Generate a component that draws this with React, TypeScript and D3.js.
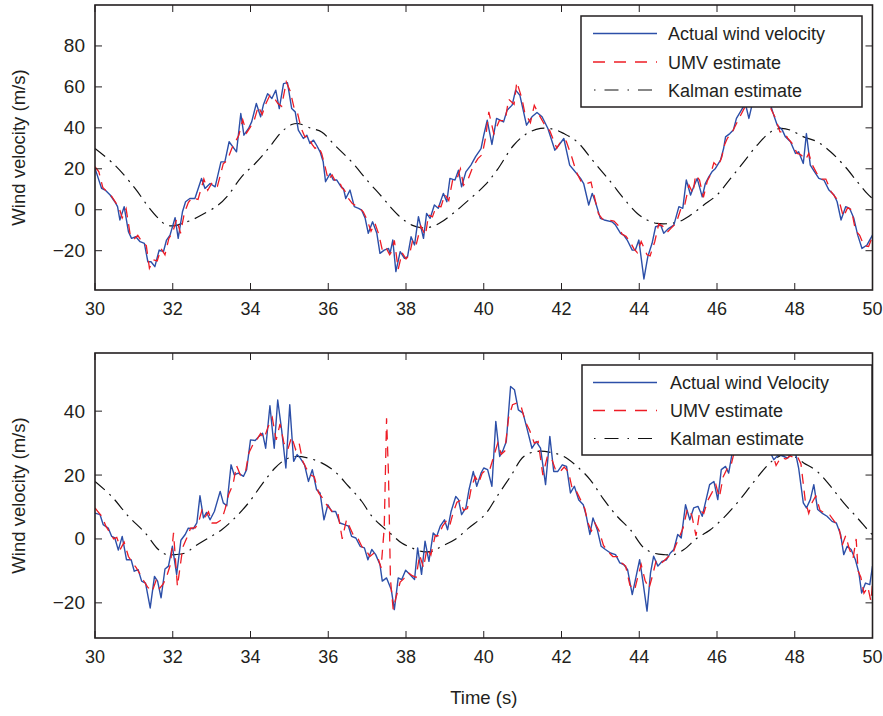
import React from "react";
import * as d3 from "d3";

// ---------- data ----------
const xTicks = [30, 32, 34, 36, 38, 40, 42, 44, 46, 48, 50];
const yTicksTop = [-20, 0, 20, 40, 60, 80];
const yTicksBottom = [-20, 0, 20, 40];
const legendTop = ["Actual wind velocity", "UMV estimate", "Kalman estimate"];
const legendBottom = ["Actual wind Velocity", "UMV estimate", "Kalman estimate"];
const yLabel = "Wind velocity (m/s)";
const xLabel = "Time (s)";

const actualTop: [number, number][] = [
  [30.00,20.2],[30.17,10.4],[30.26,9.6],[30.39,7.2],[30.51,3.9],[30.58,1.5],[30.64,-5.0],[30.75,1.5],[30.86,-10.7],[30.94,-14.0],
  [31.05,-13.2],[31.16,-15.6],[31.27,-16.4],[31.36,-25.4],[31.44,-25.4],[31.54,-27.8],[31.65,-19.7],[31.76,-20.5],[31.84,-14.8],[31.93,-12.4],
  [32.06,-3.9],[32.14,-14.0],[32.25,-1.0],[32.33,3.9],[32.44,5.5],[32.57,5.5],[32.74,15.3],[32.83,10.4],[32.96,12.8],[33.09,11.2],
  [33.24,23.4],[33.34,23.4],[33.45,33.2],[33.64,28.3],[33.75,47.0],[33.83,36.4],[33.95,39.7],[34.03,42.9],[34.15,51.9],[34.26,45.4],
  [34.33,51.1],[34.44,56.7],[34.55,54.3],[34.65,58.4],[34.74,49.4],[34.85,61.6],[34.95,62.1],[35.06,49.4],[35.15,47.8],[35.23,38.9],
  [35.36,34.8],[35.45,36.4],[35.53,32.4],[35.62,34.0],[35.70,31.5],[35.79,28.3],[35.87,23.4],[35.93,13.7],[36.05,17.7],[36.13,14.5],
  [36.22,14.5],[36.33,11.2],[36.39,10.4],[36.45,5.5],[36.56,9.6],[36.67,1.5],[36.78,0.7],[36.86,-0.2],[36.95,-4.2],[37.03,-11.5],
  [37.14,-5.9],[37.25,-11.5],[37.33,-21.3],[37.44,-19.7],[37.55,-18.9],[37.59,-21.3],[37.66,-14.8],[37.74,-30.2],[37.85,-20.5],[37.96,-23.7],
  [38.04,-22.9],[38.13,-13.2],[38.22,-17.2],[38.32,-3.4],[38.45,-14.0],[38.53,-1.8],[38.62,-4.2],[38.73,2.3],[38.83,0.7],[38.96,8.0],
  [39.05,3.9],[39.13,15.3],[39.26,14.5],[39.35,19.3],[39.43,11.2],[39.54,18.5],[39.67,21.8],[39.79,25.9],[39.93,29.9],[40.00,36.4],
  [40.09,43.7],[40.21,31.9],[40.33,44.6],[40.51,42.9],[40.60,48.6],[40.73,51.1],[40.82,58.4],[40.93,55.9],[41.10,41.3],[41.24,45.4],
  [41.37,47.5],[41.50,45.4],[41.65,39.7],[41.83,29.1],[41.93,31.5],[42.06,34.8],[42.21,21.8],[42.32,19.3],[42.49,15.3],[42.57,12.8],
  [42.70,2.3],[42.79,8.0],[42.87,3.9],[43.00,-4.2],[43.10,-5.0],[43.30,-5.9],[43.39,-7.5],[43.52,-11.5],[43.60,-12.4],[43.69,-14.8],
  [43.82,-19.7],[43.90,-19.7],[43.99,-14.8],[44.12,-33.8],[44.22,-22.9],[44.33,-16.4],[44.42,-8.3],[44.55,-7.5],[44.63,-11.5],[44.76,-9.1],
  [44.89,-7.5],[45.02,1.5],[45.12,0.7],[45.21,14.5],[45.32,7.2],[45.40,11.2],[45.49,15.3],[45.62,6.3],[45.70,12.8],[45.79,16.1],
  [45.87,18.5],[45.96,20.2],[46.09,24.2],[46.17,29.9],[46.22,35.6],[46.33,37.2],[46.42,38.9],[46.50,44.6],[46.65,49.4],[46.73,51.9],
  [46.82,44.6],[46.90,51.1],[47.03,55.0],[47.16,58.0],[47.27,53.0],[47.38,51.1],[47.46,46.2],[47.55,41.3],[47.68,38.9],[47.76,35.6],
  [47.89,33.2],[48.02,27.5],[48.10,28.3],[48.22,22.6],[48.30,37.2],[48.40,21.8],[48.51,18.5],[48.62,15.3],[48.75,14.5],[48.88,9.6],
  [49.01,7.2],[49.09,3.9],[49.19,-5.0],[49.31,1.5],[49.41,0.7],[49.52,-4.2],[49.62,-12.4],[49.73,-18.9],[49.86,-17.2],[50.00,-12.4]
];

const umvTop: [number, number][] = [
  [30.00,21.0],[30.10,18.5],[30.20,10.9],[30.30,9.0],[30.43,6.5],[30.55,3.0],[30.62,1.0],[30.70,-4.0],[30.80,0.5],[30.90,-11.5],
  [31.00,-14.5],[31.10,-12.5],[31.22,-16.0],[31.32,-17.5],[31.40,-28.6],[31.50,-24.5],[31.60,-25.0],[31.70,-19.0],[31.80,-22.0],[31.90,-14.0],
  [32.00,-11.0],[32.10,-4.5],[32.20,-11.5],[32.30,-1.5],[32.40,3.5],[32.50,6.0],[32.65,5.0],[32.80,15.0],[32.90,9.5],[33.02,13.5],
  [33.15,11.5],[33.30,22.5],[33.40,24.0],[33.52,30.0],[33.70,36.4],[33.80,44.0],[33.90,37.5],[34.00,40.5],[34.10,44.0],[34.20,50.5],
  [34.30,46.5],[34.40,52.0],[34.50,56.0],[34.60,54.8],[34.70,52.0],[34.80,50.5],[34.92,62.4],[35.02,58.0],[35.12,49.8],[35.20,48.0],
  [35.30,40.0],[35.40,35.5],[35.50,36.0],[35.58,32.0],[35.66,30.0],[35.75,31.0],[35.83,27.5],[35.90,22.5],[36.00,14.5],[36.10,17.0],
  [36.18,14.0],[36.28,14.0],[36.36,10.5],[36.42,9.5],[36.50,6.0],[36.62,3.0],[36.72,1.8],[36.82,0.5],[36.90,-1.0],[37.00,-5.0],
  [37.10,-10.5],[37.20,-6.5],[37.30,-12.0],[37.40,-20.5],[37.50,-19.0],[37.58,-22.0],[37.63,-20.5],[37.70,-15.0],[37.80,-29.0],[37.90,-21.0],
  [38.00,-24.0],[38.09,-22.0],[38.18,-14.0],[38.27,-16.5],[38.38,-8.0],[38.50,-12.5],[38.58,-2.5],[38.68,-3.5],[38.78,1.8],[38.90,1.5],
  [39.00,7.5],[39.10,4.5],[39.20,14.5],[39.30,14.5],[39.40,20.0],[39.48,12.0],[39.60,15.0],[39.72,21.0],[39.85,25.0],[39.96,27.0],
  [40.05,35.5],[40.13,47.8],[40.26,37.0],[40.40,43.5],[40.55,43.5],[40.64,54.0],[40.78,51.5],[40.85,62.4],[40.98,54.5],[41.05,47.8],
  [41.20,42.5],[41.30,51.0],[41.42,46.5],[41.55,42.0],[41.70,38.5],[41.88,30.0],[42.00,34.0],[42.12,33.5],[42.26,26.0],[42.38,18.5],
  [42.50,14.0],[42.62,12.5],[42.76,13.5],[42.82,8.5],[42.95,-2.0],[43.05,-4.5],[43.20,-5.0],[43.35,-5.5],[43.45,-7.5],[43.56,-12.0],
  [43.66,-13.0],[43.76,-15.5],[43.86,-19.0],[43.95,-21.0],[44.05,-15.5],[44.20,-22.0],[44.28,-22.5],[44.40,-15.5],[44.50,-7.0],[44.60,-8.0],
  [44.72,-11.0],[44.82,-9.0],[44.95,-6.5],[45.08,1.0],[45.16,1.5],[45.28,12.0],[45.38,8.0],[45.45,17.0],[45.55,14.5],[45.65,6.0],
  [45.75,14.0],[45.83,17.0],[45.92,23.0],[46.02,21.0],[46.12,25.5],[46.20,32.0],[46.27,35.0],[46.38,37.5],[46.46,40.5],[46.55,44.0],
  [46.70,49.5],[46.78,51.0],[46.86,51.5],[46.95,52.0],[47.08,55.5],[47.20,57.0],[47.32,52.0],[47.42,48.0],[47.50,45.0],[47.62,38.0],
  [47.72,38.0],[47.82,35.0],[47.95,32.0],[48.06,27.5],[48.15,27.0],[48.28,24.5],[48.36,27.5],[48.45,22.0],[48.56,18.0],[48.66,15.0],
  [48.80,15.0],[48.93,9.0],[49.05,6.0],[49.14,4.5],[49.25,-3.5],[49.36,1.0],[49.46,0.0],[49.56,-10.0],[49.67,-12.5],[49.78,-17.5],
  [49.90,-18.0],[50.00,-13.0]
];

const kalmanTop: [number, number][] = [
  [30.00,29.9],[30.51,21.8],[31.03,10.4],[31.37,1.5],[31.63,-4.2],[31.84,-7.5],[32.06,-7.8],[32.23,-6.7],[32.49,-5.0],[32.74,-2.6],
  [33.17,2.3],[33.43,7.2],[33.77,16.1],[34.12,22.6],[34.46,29.9],[34.80,38.0],[35.06,41.6],[35.23,42.1],[35.57,39.7],[35.83,38.0],
  [36.17,31.5],[36.60,23.4],[37.03,13.7],[37.38,6.3],[37.63,0.7],[37.89,-4.2],[38.15,-7.5],[38.40,-8.8],[38.66,-8.3],[38.92,-5.9],
  [39.26,-1.0],[39.61,4.7],[40.03,12.0],[40.34,19.3],[40.77,31.5],[41.11,37.2],[41.46,39.7],[41.80,39.3],[42.06,37.2],[42.40,33.2],
  [42.83,23.4],[43.26,13.7],[43.60,5.5],[43.95,-1.8],[44.20,-5.0],[44.46,-6.7],[44.80,-6.7],[45.06,-5.5],[45.32,-2.6],[45.66,2.3],
  [46.00,7.2],[46.35,15.3],[46.69,23.4],[47.03,31.5],[47.38,38.0],[47.63,39.7],[47.89,38.9],[48.23,35.6],[48.58,33.2],[48.92,28.3],
  [49.26,21.8],[49.61,13.7],[49.86,8.0],[50.00,5.5]
];

const actualBottom: [number, number][] = [
  [30.00,8.1],[30.13,7.6],[30.21,4.5],[30.34,3.4],[30.43,0.8],[30.51,0.3],[30.60,-3.5],[30.70,0.8],[30.81,-6.5],[30.93,-6.5],
  [31.01,-10.1],[31.11,-9.6],[31.20,-13.2],[31.30,-13.8],[31.42,-21.6],[31.53,-11.7],[31.61,-13.2],[31.70,-18.4],[31.80,-9.4],[31.89,-8.5],
  [31.99,-2.3],[32.10,-11.1],[32.21,-0.4],[32.32,1.4],[32.40,3.4],[32.53,3.2],[32.62,5.0],[32.70,13.5],[32.79,6.6],[32.87,8.3],
  [32.96,6.0],[33.07,8.6],[33.22,14.9],[33.30,11.3],[33.39,10.4],[33.50,23.2],[33.58,20.1],[33.69,20.6],[33.82,19.6],[33.90,21.7],
  [34.00,31.0],[34.12,30.8],[34.22,32.1],[34.31,33.1],[34.39,28.4],[34.50,41.7],[34.61,28.4],[34.70,43.5],[34.80,34.2],[34.91,22.2],
  [35.01,42.0],[35.11,24.3],[35.20,26.4],[35.28,25.3],[35.39,23.2],[35.49,18.0],[35.59,21.7],[35.70,15.4],[35.79,14.4],[35.89,6.0],
  [35.99,10.7],[36.09,8.6],[36.19,8.6],[36.30,5.0],[36.42,4.5],[36.52,4.0],[36.60,0.8],[36.71,0.3],[36.82,-2.3],[36.93,-2.8],
  [37.02,-6.5],[37.12,-3.3],[37.22,-4.9],[37.33,-8.0],[37.39,-13.2],[37.50,-12.2],[37.62,-15.8],[37.70,-22.1],[37.80,-12.2],[37.89,-12.7],
  [37.99,-9.8],[38.10,-11.1],[38.22,-12.7],[38.30,-2.8],[38.40,-11.1],[38.49,-0.7],[38.59,-7.0],[38.70,1.9],[38.79,0.8],[38.88,4.0],
  [38.99,6.0],[39.07,2.9],[39.16,8.6],[39.28,13.3],[39.35,12.3],[39.43,7.6],[39.54,9.7],[39.62,15.4],[39.73,21.1],[39.82,16.5],
  [39.93,20.6],[40.00,22.2],[40.10,21.7],[40.21,16.5],[40.31,36.8],[40.41,25.8],[40.50,27.9],[40.58,30.5],[40.69,47.7],[40.79,46.7],
  [40.89,40.4],[41.01,39.4],[41.11,34.7],[41.24,28.4],[41.35,30.5],[41.46,28.4],[41.59,17.0],[41.70,32.1],[41.80,21.1],[41.90,21.1],
  [42.02,23.2],[42.13,22.7],[42.23,14.4],[42.33,16.5],[42.44,12.3],[42.56,10.7],[42.64,7.1],[42.73,1.4],[42.81,6.6],[42.92,2.9],
  [43.02,-2.3],[43.13,-3.3],[43.26,-4.4],[43.39,-4.9],[43.50,-7.5],[43.60,-8.0],[43.70,-9.6],[43.82,-17.4],[43.93,-11.1],[44.01,-6.5],
  [44.10,-13.8],[44.20,-22.6],[44.29,-10.6],[44.37,-5.4],[44.48,-8.5],[44.59,-7.0],[44.70,-6.5],[44.80,-4.4],[44.89,-3.3],[44.99,1.4],
  [45.08,0.3],[45.19,10.7],[45.30,6.0],[45.40,9.7],[45.51,10.2],[45.62,7.1],[45.70,11.3],[45.81,17.0],[45.92,18.0],[46.02,12.3],
  [46.11,21.7],[46.22,22.7],[46.30,20.6],[46.39,26.9],[46.50,32.0],[46.62,38.0],[46.72,33.0],[46.85,40.0],[46.97,36.0],[47.10,30.0],
  [47.20,35.0],[47.38,26.9],[47.46,24.8],[47.59,26.4],[47.72,25.8],[47.82,25.3],[47.93,26.9],[48.02,26.9],[48.10,22.2],[48.22,11.3],
  [48.30,9.7],[48.40,12.3],[48.49,17.0],[48.59,9.2],[48.70,8.1],[48.83,7.1],[48.96,5.5],[49.07,5.0],[49.18,1.4],[49.26,-4.9],
  [49.35,-2.3],[49.45,-3.3],[49.56,-6.5],[49.65,-10.6],[49.72,-16.9],[49.82,-13.8],[49.93,-14.3],[50.00,-8.5]
];

const umvBottom: [number, number][] = [
  [30.00,9.7],[30.08,8.5],[30.18,7.0],[30.28,4.0],[30.38,2.0],[30.48,0.0],[30.56,0.5],[30.66,-3.0],[30.75,-1.0],[30.86,-5.5],
  [30.97,-7.5],[31.06,-9.0],[31.16,-11.0],[31.25,-13.0],[31.35,-15.0],[31.47,-16.5],[31.57,-13.0],[31.66,-15.5],[31.76,-14.0],[31.85,-11.5],
  [31.94,-8.0],[32.02,1.9],[32.12,-14.8],[32.26,-2.5],[32.36,0.3],[32.46,3.4],[32.58,3.5],[32.66,5.0],[32.75,9.0],[32.84,7.0],
  [32.92,8.5],[33.01,5.0],[33.12,5.0],[33.26,6.0],[33.35,9.5],[33.44,14.0],[33.55,17.0],[33.64,23.0],[33.74,20.0],[33.87,21.0],
  [33.96,27.0],[34.06,29.5],[34.16,31.0],[34.26,33.0],[34.35,31.5],[34.45,35.0],[34.56,38.0],[34.66,31.0],[34.76,36.0],[34.86,30.0],
  [34.96,28.0],[35.06,32.0],[35.16,28.0],[35.25,30.0],[35.34,24.5],[35.44,22.0],[35.54,20.0],[35.64,19.5],[35.75,14.5],[35.84,13.0],
  [35.94,11.0],[36.04,9.5],[36.14,8.0],[36.25,8.0],[36.36,0.0],[36.47,6.0],[36.56,3.5],[36.66,0.8],[36.77,0.0],[36.87,-2.5],
  [36.97,-3.5],[37.07,-5.5],[37.17,-4.5],[37.28,-6.0],[37.36,-9.0],[37.44,3.5],[37.50,37.8],[37.55,20.0],[37.60,-12.7],[37.67,-22.0],
  [37.75,-18.0],[37.85,-13.5],[37.94,-12.5],[38.05,-10.5],[38.16,-11.5],[38.26,-12.0],[38.35,-5.0],[38.45,-9.0],[38.54,-3.0],[38.64,-5.0],
  [38.75,1.0],[38.84,1.0],[38.94,4.0],[39.03,5.5],[39.12,4.0],[39.22,8.5],[39.31,11.5],[39.39,12.0],[39.48,9.0],[39.58,9.5],
  [39.68,16.0],[39.78,19.5],[39.87,17.5],[39.96,20.6],[40.05,21.5],[40.15,21.5],[40.26,26.0],[40.36,30.0],[40.45,26.5],[40.54,27.5],
  [40.64,38.0],[40.74,42.0],[40.84,42.5],[40.95,42.0],[41.06,37.0],[41.18,34.0],[41.30,30.0],[41.40,30.5],[41.52,20.0],[41.64,26.0],
  [41.75,25.0],[41.85,21.5],[41.96,21.0],[42.07,22.5],[42.18,21.0],[42.28,15.5],[42.38,15.0],[42.50,12.0],[42.60,9.5],[42.68,5.0],
  [42.77,2.5],[42.86,5.0],[42.97,2.5],[43.08,-2.0],[43.20,-4.0],[43.32,-5.5],[43.44,-5.5],[43.55,-7.5],[43.65,-8.5],[43.76,-14.5],
  [43.88,-16.0],[43.97,-11.5],[44.05,-8.0],[44.15,-13.0],[44.25,-15.5],[44.33,-12.0],[44.43,-7.0],[44.53,-8.0],[44.64,-6.8],[44.75,-5.5],
  [44.85,-5.0],[44.94,-2.0],[45.03,0.5],[45.13,3.5],[45.24,9.5],[45.35,7.5],[45.46,1.0],[45.56,9.0],[45.66,8.0],[45.76,12.0],
  [45.87,14.5],[45.97,17.0],[46.06,13.0],[46.16,19.5],[46.26,22.0],[46.35,22.5],[46.46,28.0],[46.58,33.0],[46.68,36.0],[46.80,35.0],
  [46.92,38.0],[47.05,33.0],[47.15,31.0],[47.28,33.0],[47.42,27.0],[47.52,23.0],[47.64,25.5],[47.77,25.0],[47.88,26.0],[47.98,25.5],
  [48.06,26.0],[48.16,23.5],[48.27,12.0],[48.36,8.0],[48.45,11.5],[48.54,13.5],[48.65,9.0],[48.77,8.0],[48.90,7.5],[49.02,5.5],
  [49.14,3.5],[49.22,-2.0],[49.31,1.0],[49.40,-3.0],[49.50,-6.0],[49.58,0.0],[49.63,-10.0],[49.70,-12.0],[49.78,-17.0],[49.88,-15.0],
  [49.96,-19.5],[50.00,-14.0]
];

const kalmanBottom: [number, number][] = [
  [30.00,18.0],[30.43,13.3],[30.86,7.1],[31.29,1.9],[31.63,-3.3],[31.84,-4.9],[32.06,-4.9],[32.32,-4.4],[32.57,-2.3],[32.92,0.3],
  [33.26,2.9],[33.60,6.6],[33.95,11.3],[34.29,17.0],[34.63,22.2],[34.89,24.8],[35.15,25.8],[35.49,25.3],[35.83,23.8],[36.17,21.1],
  [36.52,16.5],[36.86,11.8],[37.12,7.1],[37.38,4.0],[37.63,1.4],[37.89,-1.3],[38.15,-2.8],[38.40,-3.9],[38.66,-3.9],[38.92,-2.3],
  [39.26,-0.2],[39.61,3.4],[40.03,7.6],[40.34,13.3],[40.69,19.6],[41.03,25.8],[41.37,27.4],[41.72,27.1],[42.06,25.8],[42.40,22.7],
  [42.74,18.5],[43.09,12.3],[43.43,7.1],[43.77,2.9],[44.12,-2.8],[44.37,-4.4],[44.63,-4.9],[44.89,-4.9],[45.15,-3.3],[45.49,0.3],
  [45.83,2.9],[46.17,6.6],[46.52,11.3],[46.86,16.5],[47.20,21.7],[47.46,24.8],[47.72,26.4],[47.98,25.8],[48.23,23.8],[48.58,21.1],
  [48.92,16.5],[49.26,11.3],[49.61,6.6],[49.95,1.9],[50.00,1.4]
];

// ---------- layout ----------
const W = 883;
const H = 716;
const X0 = 95;
const X1 = 872.5;
const FONT = "'Liberation Sans', Arial, Helvetica, sans-serif";
const INK = "#231f20";
const BLUE = "#2c4fa8";
const RED = "#ee1c25";

type PanelProps = {
  id: string;
  top: number;
  bottom: number;
  yDomain: [number, number];
  yTicks: number[];
  actual: [number, number][];
  umv: [number, number][];
  kalman: [number, number][];
  legend: string[];
  legendBox: { x0: number; x1: number; y0: number; y1: number; rows: number[]; tx: number };
};

const fmt = (d: number) => (d < 0 ? `\u2212${-d}` : `${d}`);

function Panel(p: PanelProps) {
  const x = d3.scaleLinear().domain([30, 50]).range([X0, X1]);
  const y = d3.scaleLinear().domain(p.yDomain).range([p.bottom, p.top]);
  const line = d3
    .line<[number, number]>()
    .x((d) => x(d[0]))
    .y((d) => y(d[1]));
  const smooth = d3
    .line<[number, number]>()
    .x((d) => x(d[0]))
    .y((d) => y(d[1]))
    .curve(d3.curveCatmullRom.alpha(0.5));
  const tickLen = 7;
  const lb = p.legendBox;
  const lx0 = 593;
  const lx1 = 657;
  return (
    <g>
      <defs>
        <clipPath id={`clip-${p.id}`}>
          <rect x={X0} y={p.top} width={X1 - X0} height={p.bottom - p.top} />
        </clipPath>
      </defs>
      <g clipPath={`url(#clip-${p.id})`}>
        <path d={smooth(p.kalman) || ""} fill="none" stroke="#111" strokeWidth={1.2} strokeDasharray="13,6,2,6" />
        <path d={line(p.actual) || ""} fill="none" stroke={BLUE} strokeWidth={1.4} strokeLinejoin="round" />
        <path d={line(p.umv) || ""} fill="none" stroke={RED} strokeWidth={1.3} strokeDasharray="10,7" />
      </g>
      {/* ticks */}
      {xTicks.map((t) => (
        <g key={`xt${t}`}>
          <line x1={x(t)} x2={x(t)} y1={p.bottom} y2={p.bottom - tickLen} stroke={INK} strokeWidth={1} />
          <line x1={x(t)} x2={x(t)} y1={p.top} y2={p.top + tickLen} stroke={INK} strokeWidth={1} />
          <text x={x(t)} y={p.bottom + 25} textAnchor="middle" fontSize={18} fontFamily={FONT} fill={INK}>
            {fmt(t)}
          </text>
        </g>
      ))}
      {p.yTicks.map((t) => (
        <g key={`yt${t}`}>
          <line x1={X0} x2={X0 + tickLen} y1={y(t)} y2={y(t)} stroke={INK} strokeWidth={1} />
          <line x1={X1} x2={X1 - tickLen} y1={y(t)} y2={y(t)} stroke={INK} strokeWidth={1} />
          <text x={85} y={y(t) + 6.5} textAnchor="end" fontSize={19} fontFamily={FONT} fill={INK}>
            {fmt(t)}
          </text>
        </g>
      ))}
      <rect x={X0} y={p.top} width={X1 - X0} height={p.bottom - p.top} fill="none" stroke={INK} strokeWidth={1.6} />
      <text
        transform={`translate(25,${(p.top + p.bottom) / 2}) rotate(-90)`}
        textAnchor="middle"
        fontSize={18.5}
        fontFamily={FONT}
        fill={INK}
      >
        {yLabel}
      </text>
      {/* legend */}
      <rect x={lb.x0} y={lb.y0} width={lb.x1 - lb.x0} height={lb.y1 - lb.y0} fill="#fff" stroke={INK} strokeWidth={1.5} />
      <line x1={lx0} x2={lx1} y1={lb.rows[0]} y2={lb.rows[0]} stroke={BLUE} strokeWidth={1.4} />
      <line x1={lx0} x2={lx1} y1={lb.rows[1]} y2={lb.rows[1]} stroke={RED} strokeWidth={1.3} strokeDasharray="12,9" />
      <line x1={lx0 + 1} x2={lx1} y1={lb.rows[2]} y2={lb.rows[2]} stroke="#111" strokeWidth={1.2} strokeDasharray="1.5,9,14,9" />
      {p.legend.map((s, i) => (
        <text key={s} x={lb.tx} y={lb.rows[i] + 6.5} fontSize={18} fontFamily={FONT} fill={INK}>
          {s}
        </text>
      ))}
    </g>
  );
}

export default function App() {
  return (
    <svg
      width={W}
      height={H}
      viewBox={`0 0 ${W} ${H}`}
      style={{ position: "absolute", left: 0, top: 0, background: "#fff" }}
    >
      <rect x={0} y={0} width={W} height={H} fill="#fff" />
      <Panel
        id="top"
        top={5}
        bottom={290}
        yDomain={[-39.2, 100]}
        yTicks={yTicksTop}
        actual={actualTop}
        umv={umvTop}
        kalman={kalmanTop}
        legend={legendTop}
        legendBox={{ x0: 581, x1: 862, y0: 16, y1: 107, rows: [33.5, 62, 90], tx: 668 }}
      />
      <Panel
        id="bottom"
        top={353}
        bottom={638}
        yDomain={[-31, 58.2]}
        yTicks={yTicksBottom}
        actual={actualBottom}
        umv={umvBottom}
        kalman={kalmanBottom}
        legend={legendBottom}
        legendBox={{ x0: 582, x1: 872, y0: 365, y1: 455, rows: [382.5, 410.5, 438.5], tx: 670 }}
      />
      <text x={(X0 + X1) / 2} y={704} textAnchor="middle" fontSize={18.5} fontFamily={FONT} fill={INK}>
        {xLabel}
      </text>
    </svg>
  );
}
